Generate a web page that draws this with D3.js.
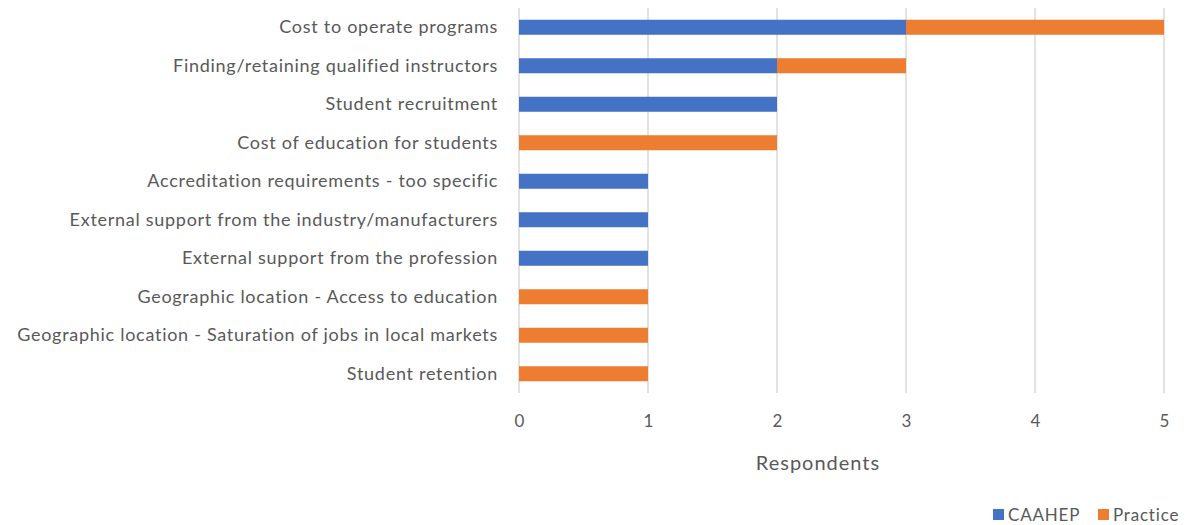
<!DOCTYPE html>
<html>
<head>
<meta charset="utf-8">
<script src="https://cdn.jsdelivr.net/npm/d3@7"></script>
<style>
  html, body { margin: 0; padding: 0; background: #fff; }
  svg { display: block; }
  text { font-family: Lato, "Open Sans", sans-serif; fill: #595959; }
</style>
</head>
<body>
<svg id="chart" width="1186" height="525"></svg>
<script>
// Challenges reported by respondents, split by program type
const categories = [
  "Cost to operate programs",
  "Finding/retaining qualified instructors",
  "Student recruitment",
  "Cost of education for students",
  "Accreditation requirements - too specific",
  "External support from the industry/manufacturers",
  "External support from the profession",
  "Geographic location - Access to education",
  "Geographic location - Saturation of jobs in local markets",
  "Student retention"
];
const caahep   = [3, 2, 2, 0, 1, 1, 1, 0, 0, 0];
const practice = [2, 1, 0, 2, 0, 0, 0, 1, 1, 1];
const seriesNames = ["CAAHEP", "Practice"];
const seriesColors = ["#4472C4", "#ED7D31"];
const xTicks = [0, 1, 2, 3, 4, 5];

const svg = d3.select("#chart");

const x = d3.scaleLinear().domain([0, 5]).range([519, 1164]);
const y = d3.scaleBand().domain(categories).range([8, 393]).paddingInner(0.61).paddingOuter(0.305);

// vertical gridlines
svg.append("g")
  .selectAll("line")
  .data(xTicks)
  .join("line")
  .attr("x1", d => x(d)).attr("x2", d => x(d))
  .attr("y1", 8).attr("y2", 393)
  .attr("stroke", "#d9d9d9")
  .attr("stroke-width", 1.5);

// stacked bars
const rows = categories.map((c, i) => ({ cat: c, CAAHEP: caahep[i], Practice: practice[i] }));
const stacked = d3.stack().keys(seriesNames)(rows);

svg.append("g")
  .selectAll("g")
  .data(stacked)
  .join("g")
  .attr("fill", (d, i) => seriesColors[i])
  .selectAll("rect")
  .data(d => d.filter(s => s[1] - s[0] > 0))
  .join("rect")
  .attr("x", d => x(d[0]))
  .attr("width", d => x(d[1]) - x(d[0]))
  .attr("y", d => y(d.data.cat))
  .attr("height", y.bandwidth());

// category labels
const yAxis = svg.append("g")
  .attr("transform", `translate(${x(0)},0)`)
  .call(d3.axisLeft(y).tickSize(0).tickPadding(21));
yAxis.select(".domain").remove();
yAxis.selectAll("text")
  .attr("font-size", 18)
  .attr("letter-spacing", 0.72)
  .style("font-family", "Lato, 'Open Sans', sans-serif")
  .attr("fill", "#595959");

// value axis labels
const xAxis = svg.append("g")
  .attr("transform", "translate(0,393)")
  .call(d3.axisBottom(x).tickValues(xTicks).tickFormat(d3.format("d")).tickSize(0).tickPadding(22));
xAxis.select(".domain").remove();
xAxis.selectAll("text")
  .attr("font-size", 17)
  .style("font-family", "Lato, 'Open Sans', sans-serif")
  .attr("fill", "#595959");

// axis title
svg.append("text")
  .attr("x", 818).attr("y", 470)
  .attr("text-anchor", "middle")
  .attr("font-size", 20)
  .attr("letter-spacing", 1)
  .text("Respondents");

// legend
const legendItems = [
  { name: seriesNames[0], color: seriesColors[0], x: 993 },
  { name: seriesNames[1], color: seriesColors[1], x: 1098 }
];
const lg = svg.append("g").selectAll("g").data(legendItems).join("g")
  .attr("transform", d => `translate(${d.x},0)`);
lg.append("rect").attr("x", 0).attr("y", 509).attr("width", 11).attr("height", 11)
  .attr("fill", d => d.color);
lg.append("text").attr("x", 15).attr("y", 521).attr("font-size", 17)
  .attr("letter-spacing", 0.8)
  .text(d => d.name);
</script>
</body>
</html>
